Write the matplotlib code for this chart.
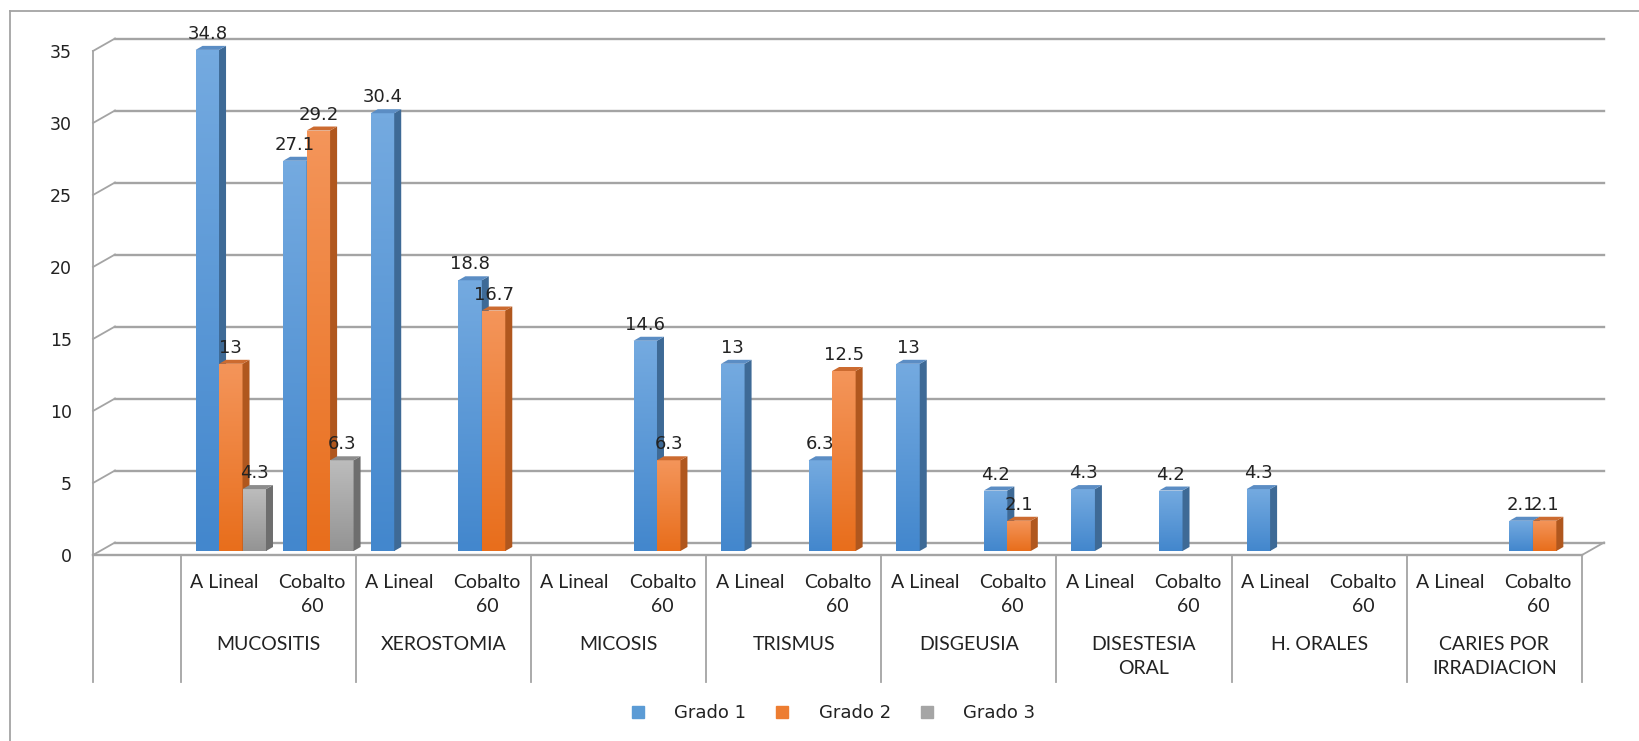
import numpy as np
import matplotlib.pyplot as plt
import matplotlib.transforms as mtransforms
from matplotlib.patches import Polygon
from matplotlib.lines import Line2D
from matplotlib.colors import LinearSegmentedColormap

nan = np.nan

enfermedades = ["MUCOSITIS", "XEROSTOMIA", "MICOSIS", "TRISMUS", "DISGEUSIA",
                "DISESTESIA\nORAL", "H. ORALES", "CARIES POR\nIRRADIACION"]
tratamientos = ["A Lineal", "Cobalto\n60"]
series = ["Grado 1", "Grado 2", "Grado 3"]

# porcentajes por (enfermedad, tratamiento) en el orden de las columnas
grado1 = [34.8, 27.1, 30.4, 18.8, nan, 14.6, 13, 6.3, 13, 4.2, 4.3, 4.2, 4.3, nan, nan, 2.1]
grado2 = [13, 29.2, nan, 16.7, nan, 6.3, nan, 12.5, nan, 2.1, nan, nan, nan, nan, nan, 2.1]
grado3 = [4.3, 6.3, nan, nan, nan, nan, nan, nan, nan, nan, nan, nan, nan, nan, nan, nan]

yticks = [0, 5, 10, 15, 20, 25, 30, 35]

# colores: frente (arriba, abajo), lateral, tapa, leyenda
estilos = [
    (("#74aae0", "#4387cd"), "#3e6a96", "#5b8dc4", "#5b9bd5"),
    (("#f4955a", "#e86e1c"), "#b0571e", "#cc6b30", "#ed7d31"),
    (("#bcbcbc", "#949494"), "#6e6e6e", "#8c8c8c", "#a5a5a5"),
]
GRID = "#a4a4a4"
TXT = "#222222"

W, H = 1639, 741
fig = plt.figure(figsize=(W / 100, H / 100), dpi=100)
fig.patch.set_facecolor("white")

n_slots = len(enfermedades) * len(tratamientos) + 1
ax = fig.add_axes([93 / W, (H - 555) / H, 1489 / W, 504 / H])
ax.set_xlim(0, n_slots)
ax.set_ylim(0, 35)
for s in ax.spines.values():
    s.set_visible(False)
ax.set_xticks([])
ax.set_yticks(yticks)
ax.tick_params(axis="y", length=0, pad=15, labelsize=12.5, labelcolor=TXT)

# pixeles -> unidades de datos
sx = n_slots / 1489
sy = 35 / 504
bdx, bdy = 22 * sx, 12.5 * sy      # pared del fondo
ddx, ddy = 7 * sx, 4 * sy          # profundidad de cada columna
base = 4 * sy

# pared del fondo, pared lateral y piso
for v in yticks:
    ax.plot([bdx, n_slots + bdx], [v + bdy, v + bdy], color=GRID, lw=1.7, zorder=1, clip_on=False)
    ax.plot([0, bdx], [v, v + bdy], color=GRID, lw=1.3, zorder=1, clip_on=False)
ax.plot([0, 0], [0, 35], color=GRID, lw=1.3, zorder=1, clip_on=False)
ax.plot([0, n_slots], [0, 0], color=GRID, lw=1.7, zorder=1, clip_on=False)
ax.plot([n_slots, n_slots + bdx], [0, bdy], color=GRID, lw=1.3, zorder=1, clip_on=False)

# tabla de categorias bajo el piso
y_tabla = -(682 - 555) * sy
for xv in [0] + list(range(1, n_slots + 1, 2)):
    ax.plot([xv, xv], [0, y_tabla], color=GRID, lw=1.3, clip_on=False)

# columnas 3D
bw = 0.268
off = 0.171
grad = np.linspace(0, 1, 64).reshape(-1, 1)
z = 3
for i in range(len(grado1)):
    slot = i + 1
    for k, vals in enumerate([grado1, grado2, grado3]):
        v = vals[i]
        if np.isnan(v):
            continue
        (c_top, c_bot), c_side, c_cap, _ = estilos[k]
        x0 = slot + off + k * bw
        x1 = x0 + bw
        rect = ax.bar(x0, v, bw, bottom=base, align="edge", color=c_bot,
                      lw=0, zorder=z, clip_on=False)[0]
        cmap = LinearSegmentedColormap.from_list("g", [c_top, c_bot])
        im = ax.imshow(grad, extent=(x0, x1, base, base + v), aspect="auto",
                       cmap=cmap, origin="upper", zorder=z + 0.1,
                       interpolation="bilinear")
        im.set_clip_path(rect)
        top = base + v
        ax.add_patch(Polygon([(x1, base), (x1 + ddx, base + ddy), (x1 + ddx, top + ddy), (x1, top)],
                             closed=True, fc=c_side, lw=0, zorder=z + 0.2, clip_on=False))
        ax.add_patch(Polygon([(x0, top), (x1, top), (x1 + ddx, top + ddy), (x0 + ddx, top + ddy)],
                             closed=True, fc=c_cap, lw=0, zorder=z + 0.2, clip_on=False))
        ax.text((x0 + x1) / 2, top + ddy + 7 * sy, f"{v:g}", ha="center", va="baseline",
                fontsize=13, color=TXT, zorder=50, clip_on=False)
        z += 1

ax.set_xlim(0, n_slots)
ax.set_ylim(0, 35)

# etiquetas de categorias
tr = mtransforms.blended_transform_factory(ax.transData, fig.transFigure)
for g, enf in enumerate(enfermedades):
    for t, trat in enumerate(tratamientos):
        xc = 1 + 2 * g + t + 0.5
        for j, linea in enumerate(trat.split("\n")):
            ax.text(xc, 1 - (583 + 23 * j) / H, linea, transform=tr, ha="center", va="center",
                    fontsize=14, family="Lato", color=TXT, clip_on=False)
    for j, linea in enumerate(enf.split("\n")):
        ax.text(2 + 2 * g, 1 - (645 + 23 * j) / H, linea, transform=tr, ha="center", va="center",
                fontsize=14, family="Lato", color=TXT, clip_on=False)

# leyenda
handles = [Line2D([], [], marker="s", ls="", markersize=8.5, color=e[3]) for e in estilos]
fig.legend(handles, series, loc="center", bbox_to_anchor=(833 / W, 1 - 713 / H), ncol=3,
           frameon=False, fontsize=13, handlelength=0.8, handletextpad=1.6,
           columnspacing=1.6, labelcolor=TXT)

# marco del grafico
fig.add_artist(Line2D([10 / W, 10 / W], [0, 1 - 11 / H], color=GRID, lw=1.3))
fig.add_artist(Line2D([10 / W, 1], [1 - 11 / H, 1 - 11 / H], color=GRID, lw=1.3))

fig.savefig("out.png", dpi=100, facecolor="white")
